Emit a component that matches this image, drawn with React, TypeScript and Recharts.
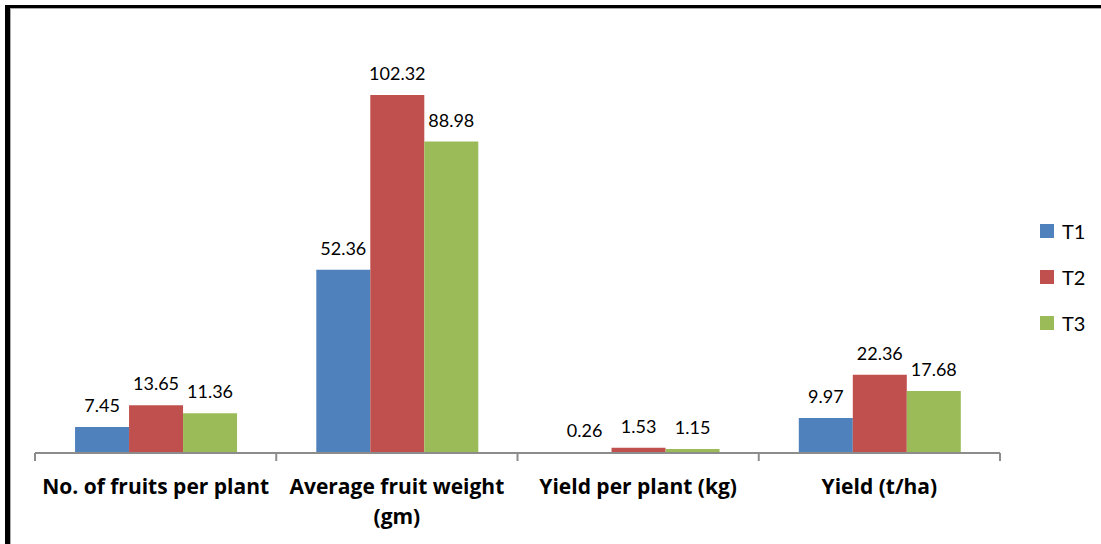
import React from "react";
import { BarChart, Bar, XAxis, YAxis, LabelList } from "recharts";

const categories = [
  "No. of fruits per plant",
  "Average fruit weight (gm)",
  "Yield per plant (kg)",
  "Yield (t/ha)",
];
const t1 = [7.45, 52.36, 0.26, 9.97];
const t2 = [13.65, 102.32, 1.53, 22.36];
const t3 = [11.36, 88.98, 1.15, 17.68];

const series = [
  { key: "T1", color: "#4F81BD" },
  { key: "T2", color: "#C0504D" },
  { key: "T3", color: "#9BBB59" },
];

const data = categories.map((name, i) => ({ name, T1: t1[i], T2: t2[i], T3: t3[i] }));

const W = 1101;
const H = 544;
const AXIS_H = 30;
const margin = { top: 33, right: 101, bottom: 91 - AXIS_H, left: 35 };
const band = (W - margin.left - margin.right) / categories.length;
const FONT = "Lato, 'Open Sans', sans-serif";

// simple word wrap by character count
const wrap = (s: string, max: number) => {
  const lines: string[] = [];
  let cur = "";
  s.split(" ").forEach((w) => {
    const next = cur ? cur + " " + w : w;
    if (next.length > max && cur) {
      lines.push(cur);
      cur = w;
    } else cur = next;
  });
  if (cur) lines.push(cur);
  return lines;
};

const CategoryTick = (props: any) => {
  const { x, y, payload, index } = props;
  const lines = wrap(String(payload.value), 23);
  return (
    <g>
      <line x1={x - band / 2} y1={y - 8} x2={x - band / 2} y2={y} stroke="#8c8c8c" strokeWidth={2} />
      {index === categories.length - 1 && (
        <line x1={x + band / 2} y1={y - 8} x2={x + band / 2} y2={y} stroke="#8c8c8c" strokeWidth={2} />
      )}
      <text
        x={x}
        y={y + 33}
        textAnchor="middle"
        fontFamily="'Open Sans', sans-serif"
        fontWeight={700}
        fontSize={21}
        fill="#000"
      >
        {lines.map((l, i) => (
          <tspan key={i} x={x} dy={i === 0 ? 0 : 30}>
            {l}
          </tspan>
        ))}
      </text>
    </g>
  );
};

export default function App() {
  return (
    <div
      style={{
        position: "absolute",
        left: 0,
        top: 0,
        width: W,
        height: H,
        overflow: "hidden",
        background: "#fff",
      }}
    >
      <div
        style={{
          position: "absolute",
          left: 5,
          top: 5,
          width: 1200,
          height: 700,
          borderTop: "3px solid #000",
          borderLeft: "5px solid #000",
        }}
      >
        <div style={{ position: "absolute", inset: 0, borderTop: "1px solid #aaa", borderLeft: "1px solid #aaa" }} />
      </div>
      <div style={{ position: "absolute", left: 0, top: 0 }}>
        <BarChart width={W} height={H} data={data} margin={margin} barCategoryGap="16.6%" barGap={0}>
          <YAxis hide domain={[0, 120]} />
          <XAxis
            dataKey="name"
            height={AXIS_H}
            axisLine={{ stroke: "#8c8c8c", strokeWidth: 2 }}
            tickLine={false}
            tickSize={8}
            tickMargin={0}
            interval={0}
            tick={<CategoryTick />}
          />
          {series.map((s) => (
            <Bar key={s.key} dataKey={s.key} fill={s.color} isAnimationActive={false}>
              <LabelList
                dataKey={s.key}
                position="top"
                offset={15}
                fill="#000"
                fontSize={18}
                fontFamily={FONT}
              />
            </Bar>
          ))}
        </BarChart>
      </div>
      <div style={{ position: "absolute", left: 1040, top: 208, fontFamily: FONT, fontSize: 20 }}>
        {series.map((s) => (
          <div key={s.key} style={{ display: "flex", alignItems: "center", height: 46 }}>
            <span style={{ width: 14, height: 14, background: s.color, marginRight: 8 }} />
            <span>{s.key}</span>
          </div>
        ))}
      </div>
    </div>
  );
}
